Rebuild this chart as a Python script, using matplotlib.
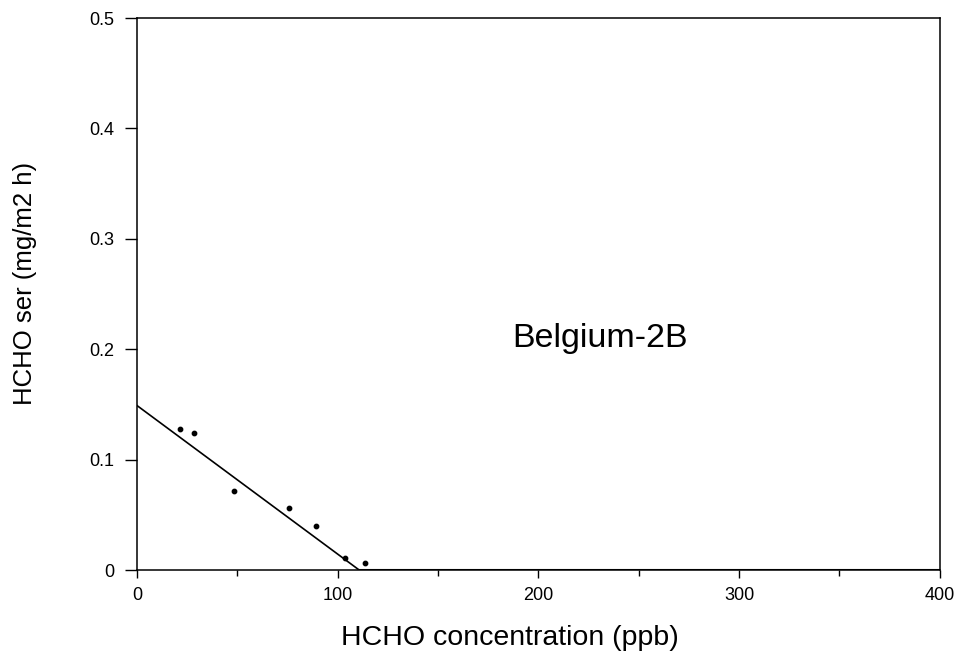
import matplotlib
matplotlib.use("Agg")
import matplotlib.pyplot as plt
import numpy as np

plt.rcParams['font.family'] = ['Liberation Sans', 'DejaVu Sans']

# measured points (HCHO concentration ppb, emission rate mg/m2 h)
conc = [21.4, 28.4, 48.3, 75.5, 89.3, 103.6, 113.6]
ser = [0.128, 0.124, 0.072, 0.056, 0.040, 0.011, 0.006]

# fitted line
fit_x = [0, 110.7]
fit_y = [0.149, 0.0]

fig = plt.figure(figsize=(9.6, 6.58), dpi=100)
ax = fig.add_axes([0.1427, 0.1337, 0.8363, 0.8389])

ax.plot(fit_x, fit_y, color='black', lw=1.2)
ax.plot([110.7, 400], [0, 0], color='black', lw=1.5)
ax.scatter(conc, ser, s=10, color='black', zorder=3)

ax.set_xlim(0, 400)
ax.set_ylim(0, 0.5)
ax.set_xticks([0, 100, 200, 300, 400])
ax.set_xticks([50, 150, 250, 350], minor=True)
ax.set_yticks([0, 0.1, 0.2, 0.3, 0.4, 0.5])
ax.set_yticklabels(['0', '0.1', '0.2', '0.3', '0.4', '0.5'])
ax.tick_params(axis='y', which='major', direction='out', length=8.5, width=1,
               labelsize=13, pad=8)
ax.tick_params(axis='x', which='major', direction='out', length=6, width=1,
               labelsize=13, pad=6)
ax.tick_params(axis='x', which='minor', direction='out', length=4, width=1)

for sp in ax.spines.values():
    sp.set_linewidth(1.1)

ax.set_xlabel('HCHO concentration (ppb)', fontsize=20.5)
ax.xaxis.set_label_coords(0.465, -0.099)
ax.set_ylabel('HCHO ser (mg/m2 h)', fontsize=18.5)
ax.yaxis.set_label_coords(-0.124, 0.52)
ax.text(230.6, 0.21, 'Belgium-2B', fontsize=24.5, ha='center', va='center')

fig.savefig('out.png', dpi=100)
